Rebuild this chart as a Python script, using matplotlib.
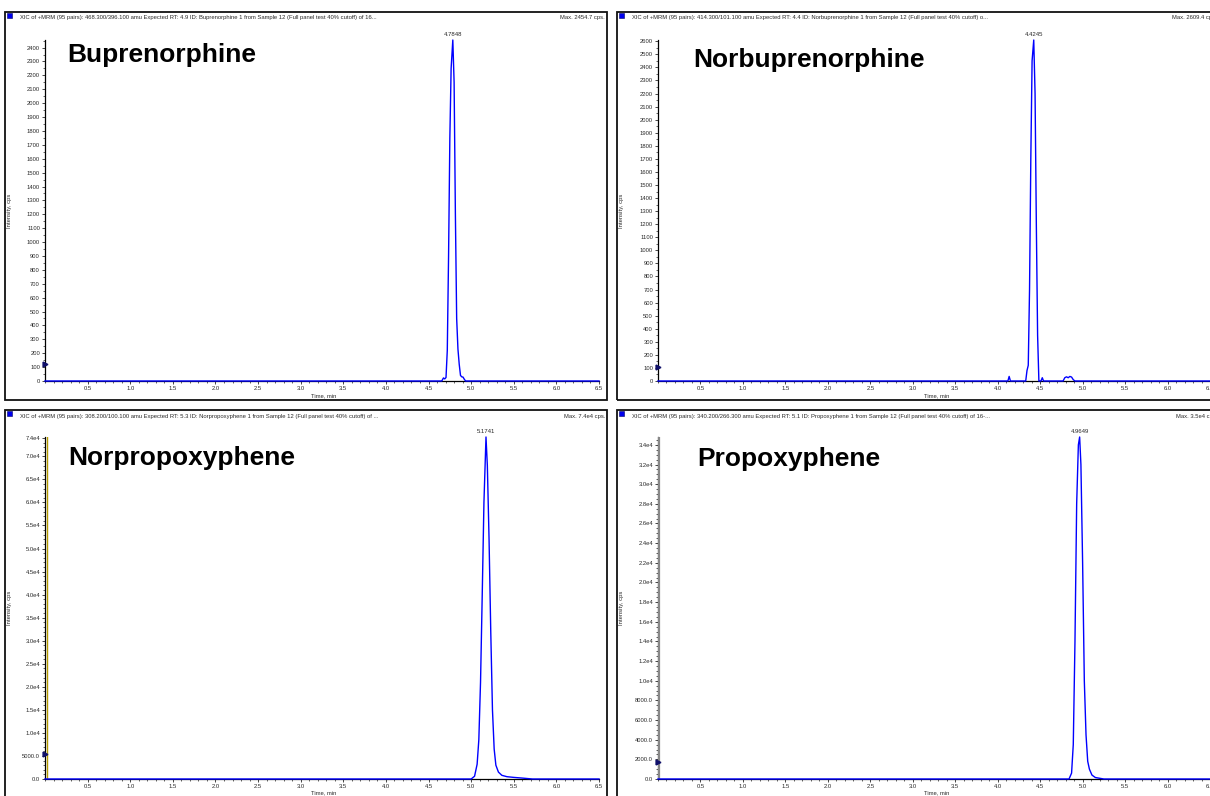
import matplotlib
matplotlib.use("Agg")
import matplotlib.pyplot as plt
from matplotlib.ticker import MultipleLocator, FixedLocator, FixedFormatter
from matplotlib.patches import Rectangle
import matplotlib.transforms as mtransforms

plt.rcParams['font.family'] = ['Liberation Sans', 'DejaVu Sans']

# ---------------- data ----------------
names = ["Buprenorphine", "Norbuprenorphine", "Norpropoxyphene", "Propoxyphene"]
headers = [
    "XIC of +MRM (95 pairs): 468.300/396.100 amu Expected RT: 4.9 ID: Buprenorphine 1 from Sample 12 (Full panel test 40% cutoff) of 16...",
    "XIC of +MRM (95 pairs): 414.300/101.100 amu Expected RT: 4.4 ID: Norbuprenorphine 1 from Sample 12 (Full panel test 40% cutoff) o...",
    "XIC of +MRM (95 pairs): 308.200/100.100 amu Expected RT: 5.3 ID: Norpropoxyphene 1 from Sample 12 (Full panel test 40% cutoff) of ...",
    "XIC of +MRM (95 pairs): 340.200/266.300 amu Expected RT: 5.1 ID: Propoxyphene 1 from Sample 12 (Full panel test 40% cutoff) of 16-...",
]
max_labels = ["Max. 2454.7 cps.", "Max. 2609.4 cps.", "Max. 7.4e4 cps.", "Max. 3.5e4 cps."]
peak_rt = [4.7848, 4.4245, 5.1741, 4.9649]
peak_max = [2454.7, 2609.4, 74200.0, 34800.0]
threshold = [122, 110, 5400, 1750]

t_bup = [0.0, 4.655, 4.675, 4.69, 4.705, 4.72, 4.735, 4.75, 4.765, 4.7848, 4.80,
         4.815, 4.83, 4.845, 4.86, 4.875, 4.89, 4.905, 4.92, 4.935, 6.5]
i_bup = [0, 0, 22, 15, 25, 220, 900, 1750, 2250, 2454.7, 2150,
         1200, 450, 230, 120, 40, 30, 28, 12, 0, 0]

t_norbup = [0.0, 4.12, 4.135, 4.15, 4.33, 4.345, 4.36, 4.375, 4.39, 4.405, 4.4245,
            4.44, 4.455, 4.47, 4.485, 4.51, 4.525, 4.54, 4.77, 4.79, 4.81, 4.83,
            4.85, 4.87, 4.89, 4.91, 6.5]
i_norbup = [0, 0, 35, 0, 0, 80, 120, 700, 1700, 2450, 2609.4,
            2200, 1200, 350, 0, 0, 25, 0, 0, 25, 32, 25, 35, 30, 10, 0, 0]

t_norprop = [0.0, 5.00, 5.04, 5.07, 5.09, 5.11, 5.13, 5.15, 5.1741, 5.19, 5.21,
             5.23, 5.25, 5.27, 5.29, 5.32, 5.36, 5.42, 5.50, 5.60, 5.72, 6.5]
i_norprop = [0, 0, 600, 3200, 8500, 21000, 40000, 60000, 74200, 68000, 52000,
             32000, 15000, 6500, 3000, 1500, 800, 500, 350, 200, 0, 0]

t_prop = [0.0, 4.84, 4.87, 4.89, 4.91, 4.93, 4.95, 4.9649, 4.98, 5.00, 5.02,
          5.04, 5.06, 5.08, 5.11, 5.15, 5.25, 6.5]
i_prop = [0, 0, 600, 3500, 14000, 28000, 34000, 34800, 32000, 22000, 10000,
          4500, 1800, 1000, 400, 150, 0, 0]

times = [t_bup, t_norbup, t_norprop, t_prop]
intens = [i_bup, i_norbup, i_norprop, i_prop]

x_ticks = [0.5, 1.0, 1.5, 2.0, 2.5, 3.0, 3.5, 4.0, 4.5, 5.0, 5.5, 6.0, 6.5]
y_ticks = [
    list(range(0, 2401, 100)),
    list(range(0, 2601, 100)),
    [0, 5000, 10000, 15000, 20000, 25000, 30000, 35000, 40000, 45000, 50000,
     55000, 60000, 65000, 70000, 74000],
    list(range(0, 34001, 2000)),
]
y_ticklabels = [
    [str(v) for v in y_ticks[0]],
    [str(v) for v in y_ticks[1]],
    ["0.0", "5000.0", "1.0e4", "1.5e4", "2.0e4", "2.5e4", "3.0e4", "3.5e4", "4.0e4",
     "4.5e4", "5.0e4", "5.5e4", "6.0e4", "6.5e4", "7.0e4", "7.4e4"],
    ["0.0", "2000.0", "4000.0", "6000.0", "8000.0", "1.0e4", "1.2e4", "1.4e4", "1.6e4",
     "1.8e4", "2.0e4", "2.2e4", "2.4e4", "2.6e4", "2.8e4", "3.0e4", "3.2e4", "3.4e4"],
]
y_minor = [50, 50, 1000, 500]

# ---------------- layout (pixels) ----------------
W, H = 1210, 796
fig = plt.figure(figsize=(W / 100, H / 100), dpi=100)
fig.patch.set_facecolor("white")

def fx(x):
    return x / W

def fy(y):
    return 1 - y / H

# axes boxes: left, right, top(y px), bottom(y px)
axes_px = [(45, 599, 40, 381), (658, 1210, 40, 381),
           (45, 599, 437, 779), (658, 1210, 437, 779)]
frames_px = [(5, 12, 607, 400), (617, 12, 1229, 400),
             (5, 410, 607, 830), (617, 410, 1229, 830)]
name_pos = [(67, 55), (693, 60), (68, 458), (697, 459)]
xlabel_y = [396, 396, 793, 793]

small = 4.2
tcol = "#2a2a2a"
for k in range(4):
    l, r, top, bot = axes_px[k]
    ax = fig.add_axes([fx(l), fy(bot), (r - l) / W, (bot - top) / H])
    ax.set_facecolor("none")
    ax.plot(times[k], intens[k], color="#0000ff", lw=1.0, zorder=5, clip_on=False)
    ax.set_xlim(0, 6.5)
    ax.set_ylim(0, peak_max[k])
    for s in ["top", "right"]:
        ax.spines[s].set_visible(False)
    ax.spines["left"].set_linewidth(0.9)
    ax.spines["bottom"].set_linewidth(0.9)
    ax.xaxis.set_major_locator(FixedLocator(x_ticks))
    ax.xaxis.set_major_formatter(FixedFormatter([f"{v:.1f}" for v in x_ticks]))
    ax.xaxis.set_minor_locator(MultipleLocator(0.1))
    ax.yaxis.set_major_locator(FixedLocator(y_ticks[k]))
    ax.yaxis.set_major_formatter(FixedFormatter(y_ticklabels[k]))
    ax.yaxis.set_minor_locator(MultipleLocator(y_minor[k]))
    ax.tick_params(axis="both", which="major", direction="out", length=2.4, width=0.6,
                   labelsize=small, pad=1.2, colors=tcol)
    ax.tick_params(axis="both", which="minor", direction="out", length=1.3, width=0.5,
                   colors=tcol)
    # peak label
    ax.annotate(f"{peak_rt[k]:.4f}", xy=(peak_rt[k], peak_max[k]), xytext=(0, 2.5),
                textcoords="offset points", ha="center", va="bottom", fontsize=4.3,
                color=tcol, annotation_clip=False)
    # threshold marker
    trans = mtransforms.blended_transform_factory(ax.transAxes, ax.transData)
    ax.plot([0.0], [threshold[k]], marker=">", ms=3.5, color="#10106a",
            transform=trans, clip_on=False, zorder=6)
    if k == 2:
        ax.axvline(0.02, color="#b59b00", lw=1.0, zorder=4)
    if k == 3:
        ax.axvline(0.015, color="#888888", lw=1.6, zorder=4)

    # frame
    x0, y0, x1, y1 = frames_px[k]
    fig.patches.append(Rectangle((fx(x0), fy(y1)), (x1 - x0) / W, (y1 - y0) / H,
                                 transform=fig.transFigure, fill=False,
                                 edgecolor="#111111", lw=1.3))
    # blue square
    fig.patches.append(Rectangle((fx(x0 + 2), fy(y0 + 6)), 5 / W, 5 / H,
                                 transform=fig.transFigure, facecolor="#0000ee",
                                 edgecolor="#000066", lw=0.4))
    fig.text(fx(x0 + 15), fy(y0 + 6), headers[k], fontsize=small, ha="left",
             va="center", color=tcol)
    fig.text(fx(x0 + 600), fy(y0 + 6), max_labels[k], fontsize=small, ha="right",
             va="center", color=tcol)
    # axis labels
    fig.text(fx(l + 279), fy(xlabel_y[k]), "Time, min", fontsize=small,
             ha="center", va="center", color=tcol)
    fig.text(fx(x0 + 5), fy((top + bot) / 2), "Intensity, cps", fontsize=small,
             rotation=90, ha="center", va="center", color=tcol)
    # compound name
    fig.text(fx(name_pos[k][0]), fy(name_pos[k][1]), names[k], fontsize=19,
             fontweight="bold", ha="left", va="center", color="black")

fig.savefig("out.png", dpi=100, facecolor="white")
